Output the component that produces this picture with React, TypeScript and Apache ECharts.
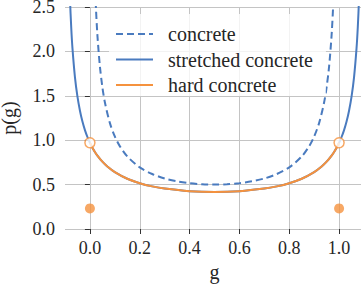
import React, { useEffect, useRef } from "react";
import * as echarts from "echarts";

const seriesNames = ["concrete", "stretched concrete", "hard concrete"];
const xTicks = [0.0, 0.2, 0.4, 0.6, 0.8, 1.0];
const yTicks = [0.0, 0.5, 1.0, 1.5, 2.0, 2.5];

const gConcrete = [0.015, 0.02, 0.024, 0.03, 0.04, 0.05, 0.06, 0.08, 0.1, 0.12, 0.15, 0.2, 0.25, 0.3, 0.35, 0.4, 0.45, 0.5, 0.55, 0.6, 0.65, 0.7, 0.75, 0.8, 0.85, 0.88, 0.9, 0.92, 0.94, 0.95, 0.96, 0.97, 0.976, 0.98, 0.985];
const pConcrete = [3.31, 2.79, 2.5, 2.185, 1.833, 1.598, 1.427, 1.195, 1.042, 0.933, 0.817, 0.694, 0.619, 0.569, 0.537, 0.516, 0.504, 0.5, 0.504, 0.516, 0.537, 0.569, 0.619, 0.694, 0.817, 0.933, 1.042, 1.195, 1.427, 1.598, 1.833, 2.185, 2.5, 2.79, 3.31];

const gStretched = [-0.09, -0.085, -0.08, -0.075, -0.07, -0.06, -0.05, -0.04, -0.03, -0.02, -0.01, 0, 0.01, 0.02, 0.03, 0.05, 0.07, 0.1, 0.15, 0.2, 0.25, 0.3, 0.4, 0.5, 0.6, 0.7, 0.75, 0.8, 0.85, 0.9, 0.93, 0.95, 0.97, 0.98, 0.99, 1.0, 1.01, 1.02, 1.03, 1.04, 1.05, 1.06, 1.07, 1.075, 1.08, 1.085, 1.09];
const pStretched = [3.88, 3.068, 2.591, 2.269, 2.034, 1.708, 1.49, 1.332, 1.21, 1.114, 1.036, 0.971, 0.916, 0.868, 0.827, 0.758, 0.704, 0.641, 0.566, 0.516, 0.48, 0.455, 0.426, 0.417, 0.426, 0.455, 0.48, 0.516, 0.566, 0.641, 0.704, 0.758, 0.827, 0.868, 0.916, 0.971, 1.036, 1.114, 1.21, 1.332, 1.49, 1.708, 2.034, 2.269, 2.591, 3.068, 3.88];

const gHard = [0, 0.01, 0.02, 0.03, 0.05, 0.07, 0.1, 0.15, 0.2, 0.25, 0.3, 0.4, 0.5, 0.6, 0.7, 0.75, 0.8, 0.85, 0.9, 0.93, 0.95, 0.97, 0.98, 0.99, 1.0];
const pHard = [0.971, 0.916, 0.868, 0.827, 0.758, 0.704, 0.641, 0.566, 0.516, 0.48, 0.455, 0.426, 0.417, 0.426, 0.455, 0.48, 0.516, 0.566, 0.641, 0.704, 0.758, 0.827, 0.868, 0.916, 0.971];

const gEndpoints = [0, 1];
const pOpenEnds = [0.971, 0.971];
const pPointMass = [0.232, 0.232];

const BLUE = "#4a7bbf";
const ORANGE = "#f5923e";
const FONT = "Liberation Serif";

const zip = (xs: number[], ys: number[]) => xs.map((x, i) => [x, ys[i]]);

export default function App() {
  const ref = useRef<HTMLDivElement>(null);
  useEffect(() => {
    if (!ref.current) return;
    const chart = echarts.init(ref.current, undefined, { renderer: "svg" });
    chart.setOption({
      animation: false,
      backgroundColor: "#ffffff",
      textStyle: { fontFamily: FONT },
      grid: { left: 65, top: 7, width: 299, height: 222, containLabel: false, outerBoundsMode: "none" },
      legend: {
        data: seriesNames,
        orient: "vertical",
        left: 109,
        top: 14,
        itemWidth: 37,
        itemHeight: 20,
        itemGap: 5.5,
        padding: [10, 13, 1, 6],
        backgroundColor: "rgba(255,255,255,0.8)",
        itemStyle: { opacity: 0 },
        formatter: (name: string) => `{s|}{t|${name}}`,
        textStyle: {
          fontFamily: FONT,
          fontSize: 20,
          color: "#262626",
          rich: {
            s: { width: 10, fontFamily: FONT, fontSize: 20 },
            t: { fontFamily: FONT, fontSize: 20, color: "#262626" },
          },
        },
      },
      xAxis: {
        type: "value",
        min: -0.1,
        max: 1.1,
        name: "g",
        nameLocation: "middle",
        nameGap: 22,
        nameTextStyle: { fontFamily: FONT, fontSize: 20, color: "#262626" },
        axisLine: { show: false },
        axisTick: { show: true, customValues: xTicks, length: 5, lineStyle: { color: "#333", width: 1 } },
        axisLabel: {
          customValues: xTicks,
          formatter: (v: number) => v.toFixed(1),
          fontFamily: FONT,
          fontSize: 18,
          color: "#262626",
          margin: 10,
        },
        splitLine: { show: true, lineStyle: { color: "#c4c4c4", width: 1 } },
      },
      yAxis: {
        type: "value",
        min: 0,
        max: 2.5,
        interval: 0.5,
        name: "p(g)",
        nameLocation: "middle",
        nameGap: 46,
        nameRotate: 90,
        nameTextStyle: { fontFamily: FONT, fontSize: 20, color: "#262626" },
        axisLine: { show: false },
        axisTick: { show: true, length: 5, lineStyle: { color: "#333", width: 1 } },
        axisLabel: {
          formatter: (v: number) => v.toFixed(1),
          fontFamily: FONT,
          fontSize: 18,
          color: "#262626",
          margin: 10,
        },
        splitLine: { show: true, lineStyle: { color: "#c4c4c4", width: 1 } },
      },
      series: [
        {
          name: seriesNames[0],
          type: "line",
          data: zip(gConcrete, pConcrete),
          symbol: "none",
          smooth: 0.3,
          clip: true,
          lineStyle: { color: BLUE, width: 2, type: [7, 4] },
          itemStyle: { color: BLUE },
          z: 3,
        },
        {
          name: seriesNames[1],
          type: "line",
          data: zip(gStretched, pStretched),
          symbol: "none",
          smooth: 0.3,
          clip: true,
          lineStyle: { color: BLUE, width: 2 },
          itemStyle: { color: BLUE },
          z: 3,
        },
        {
          name: seriesNames[2],
          type: "line",
          data: zip(gHard, pHard),
          symbol: "none",
          smooth: 0.3,
          clip: true,
          lineStyle: { color: ORANGE, width: 2 },
          itemStyle: { color: ORANGE },
          z: 4,
        },
        {
          name: "hard concrete open ends",
          type: "scatter",
          data: zip(gEndpoints, pOpenEnds),
          symbol: "circle",
          symbolSize: 10,
          itemStyle: { color: "#ffffff", borderColor: ORANGE, borderWidth: 1.5 },
          z: 5,
        },
        {
          name: "hard concrete point mass",
          type: "scatter",
          data: zip(gEndpoints, pPointMass),
          symbol: "circle",
          symbolSize: 10,
          itemStyle: { color: ORANGE },
          z: 5,
        },
      ],
    });
    return () => chart.dispose();
  }, []);
  return <div ref={ref} style={{ width: 361, height: 287, position: "absolute", left: 0, top: 0 }} />;
}
